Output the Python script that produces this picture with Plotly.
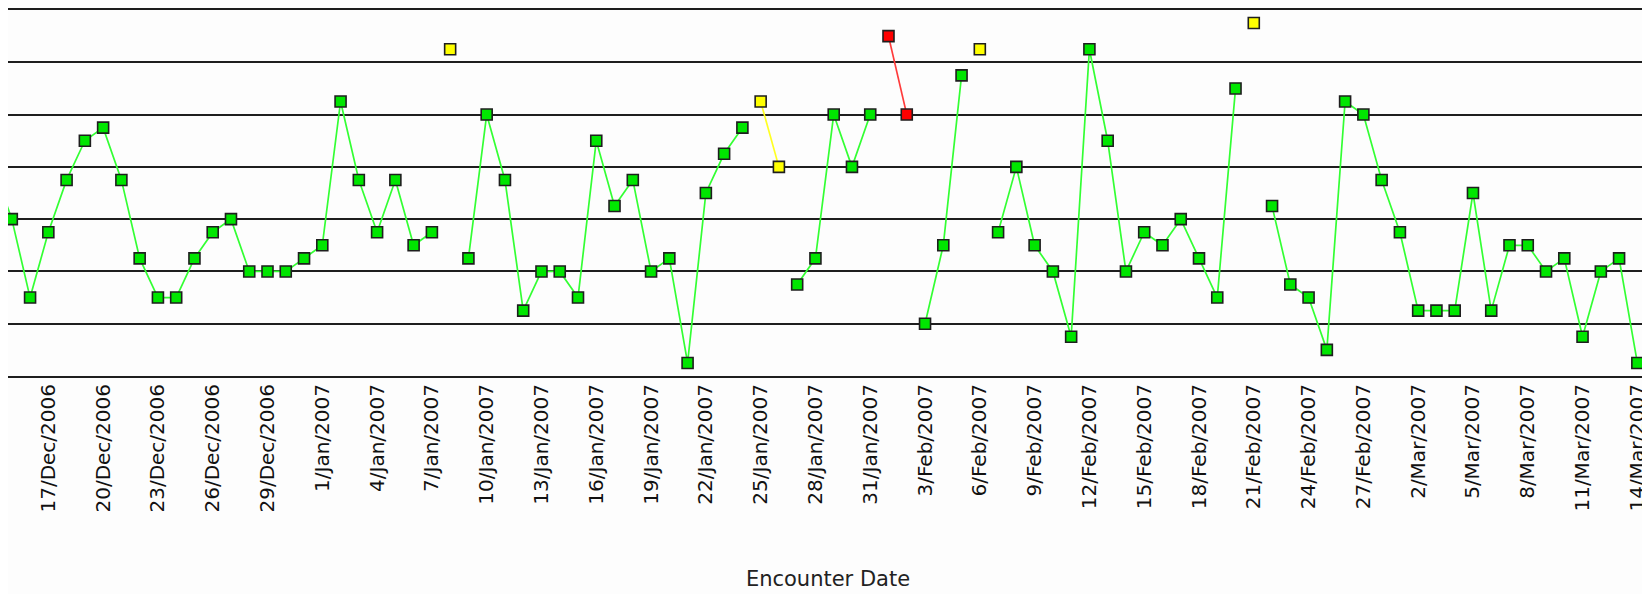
import pandas as pd
import plotly.graph_objects as go

# ---- data ----
dates = pd.date_range("2006-12-14", "2007-03-14", freq="D")
values = [
    # Dec 14 - Dec 31, 2006
    16, 12, 6, 11, 15, 18, 19, 15, 9, 6, 6, 9, 11, 12, 8, 8, 8, 9,
    # Jan 2007
    10, 21, 15, 11, 15, 10, 11, 25, 9, 20, 15, 5, 8, 8, 6, 18, 13, 15, 8, 9,
    1, 14, 17, 19, 21, 16, 7, 9, 20, 16, 20,
    # Feb 2007
    26, 20, 4, 10, 23, 25, 11, 16, 10, 8, 3, 25, 18, 8, 11, 10, 12, 9, 6, 22,
    27, 13, 7, 6, 2, 21, 20, 15,
    # Mar 2007
    11, 5, 5, 5, 14, 5, 10, 10, 8, 9, 3, 8, 9, 1,
]
yellow_dates = ["2007-01-08", "2007-01-25", "2007-01-26", "2007-02-06", "2007-02-21"]
red_dates = ["2007-02-01", "2007-02-02"]

tick_labels = [
    "17/Dec/2006", "20/Dec/2006", "23/Dec/2006", "26/Dec/2006", "29/Dec/2006",
    "1/Jan/2007", "4/Jan/2007", "7/Jan/2007", "10/Jan/2007", "13/Jan/2007",
    "16/Jan/2007", "19/Jan/2007", "22/Jan/2007", "25/Jan/2007", "28/Jan/2007",
    "31/Jan/2007", "3/Feb/2007", "6/Feb/2007", "9/Feb/2007", "12/Feb/2007",
    "15/Feb/2007", "18/Feb/2007", "21/Feb/2007", "24/Feb/2007", "27/Feb/2007",
    "2/Mar/2007", "5/Mar/2007", "8/Mar/2007", "11/Mar/2007", "14/Mar/2007",
]
grid_values = [4, 8, 12, 16, 20, 24]

# ---- build status per point ----
ydt = set(pd.to_datetime(yellow_dates))
rdt = set(pd.to_datetime(red_dates))
status = ["Y" if d in ydt else ("R" if d in rdt else "G") for d in dates]

def masked(code):
    return [v if s == code else None for v, s in zip(values, status)]

styles = {
    "G": dict(fill="#00e600", line="#33ff33"),
    "Y": dict(fill="#ffff00", line="#ffff22"),
    "R": dict(fill="#ff0000", line="#ff3b3b"),
}

fig = go.Figure()
for code in ["G", "Y", "R"]:
    st = styles[code]
    fig.add_trace(go.Scatter(
        x=dates, y=masked(code), mode="lines+markers",
        connectgaps=False,
        line=dict(color=st["line"], width=1.7),
        marker=dict(symbol="square", size=11, color=st["fill"],
                    line=dict(color="#1e1e1e", width=1.6)),
        showlegend=False,
    ))

tick_vals = [pd.to_datetime(t, format="%d/%b/%Y") for t in tick_labels]

# the page body adds an 8px offset, so the figure is sized to compensate
fig.update_layout(
    width=1642, height=586,
    margin=dict(l=0, r=2, t=2, b=218),
    paper_bgcolor="#fdfdfd", plot_bgcolor="#fdfdfd",
    xaxis=dict(
        type="date",
        range=["2006-12-14 19:00", "2007-03-14 14:00"],
        tickmode="array", tickvals=tick_vals, ticktext=tick_labels,
        tickangle=-90, ticks="",
        tickfont=dict(family="DejaVu Sans", size=20, color="#111111"),
        ticklabelstandoff=-2,
        showgrid=False, zeroline=False,
        showline=True, mirror=True, linecolor="#1e1e1e", linewidth=2,
        automargin=False,
        title=dict(text="Encounter Date", standoff=60,
                   font=dict(family="DejaVu Sans", size=21, color="#222222")),
    ),
    yaxis=dict(
        range=[0, 28], tickmode="array", tickvals=grid_values,
        showticklabels=False, ticks="",
        showgrid=True, gridcolor="#1e1e1e", gridwidth=2,
        zeroline=False, showline=False, automargin=False,
    ),
)

fig.write_html("out.html")
